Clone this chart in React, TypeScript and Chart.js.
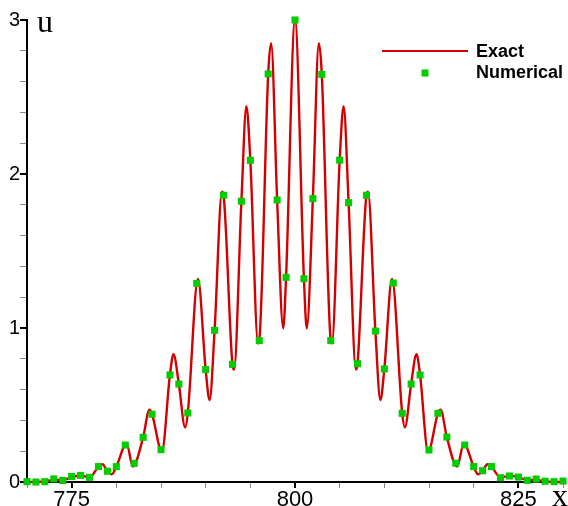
import React, { useEffect, useRef } from "react";
import { Chart, registerables } from "chart.js";

Chart.register(...registerables);

// Numerical solution samples (x = 770 ... 830, step 1)
const numX = [
  770, 771, 772, 773, 774, 775, 776, 777, 778, 779,
  780, 781, 782, 783, 784, 785, 786, 787, 788, 789,
  790, 791, 792, 793, 794, 795, 796, 797, 798, 799,
  800, 801, 802, 803, 804, 805, 806, 807, 808, 809,
  810, 811, 812, 813, 814, 815, 816, 817, 818, 819,
  820, 821, 822, 823, 824, 825, 826, 827, 828, 829,
  830,
];
const numU = [
  0.002, 0.0, 0.002, 0.02, 0.01, 0.036, 0.043, 0.03, 0.1, 0.07,
  0.1, 0.24, 0.121, 0.29, 0.44, 0.21, 0.695, 0.636, 0.448, 1.29,
  0.73, 0.985, 1.862, 0.764, 1.823, 2.089, 0.918, 2.65, 1.831, 1.329,
  3.0, 1.32, 1.84, 2.647, 0.918, 2.09, 1.814, 0.768, 1.862, 0.98,
  0.734, 1.292, 0.446, 0.636, 0.695, 0.208, 0.446, 0.292, 0.122, 0.24,
  0.1, 0.073, 0.1, 0.028, 0.039, 0.032, 0.011, 0.019, 0.005, 0.002,
  0.006,
];

// Exact solution (samples plus its peaks and troughs)
const exactX = [
  770, 771, 772, 773, 774, 775, 776, 777, 778, 778.45,
  779, 779.5, 780, 781.15, 781.85, 783, 783.7, 784, 785.1, 786,
  786.4, 787, 787.7, 788, 789.14, 790, 790.44, 791, 791.83, 792,
  793, 793.18, 794, 794.56, 795, 795.87, 796, 797, 797.33, 798,
  798.68, 799, 800, 801, 801.32, 802, 802.67, 803, 804, 804.13,
  805, 805.44, 806, 806.82, 807, 808, 808.17, 809, 809.56, 810,
  810.86, 812, 812.3, 813, 813.6, 814, 814.9, 816, 816.3, 817,
  818.15, 818.9, 820, 820.5, 821, 821.55, 822, 823, 824, 825,
  826, 827, 828, 829, 830,
];
const exactU = [
  0.0, 0.0, 0.003, 0.014, 0.012, 0.032, 0.042, 0.03, 0.1, 0.115,
  0.07, 0.05, 0.1, 0.25, 0.1, 0.29, 0.47, 0.44, 0.197, 0.695,
  0.83, 0.636, 0.355, 0.448, 1.318, 0.73, 0.532, 0.985, 1.885, 1.862,
  0.764, 0.73, 1.823, 2.44, 2.089, 0.9, 0.918, 2.65, 2.85, 1.831,
  0.998, 1.329, 3.0, 1.32, 0.998, 1.84, 2.85, 2.647, 0.918, 0.9,
  2.09, 2.44, 1.814, 0.73, 0.768, 1.862, 1.885, 0.98, 0.532, 0.734,
  1.318, 0.446, 0.355, 0.636, 0.83, 0.695, 0.197, 0.446, 0.47, 0.29,
  0.1, 0.25, 0.1, 0.05, 0.073, 0.115, 0.1, 0.03, 0.04, 0.032,
  0.012, 0.014, 0.003, 0.0, 0.0,
];

const xMajorLabels = [775, 800, 825];
const yMajorLabels = [0, 1, 2, 3];

const RED = "#d40000";
const GREEN = "#00cc00";

const isMajorY = (v: number) => Math.abs(v - Math.round(v)) < 1e-6;
const isMajorX = (v: number) => xMajorLabels.includes(Math.round(v)) && Math.abs(v - Math.round(v)) < 1e-6;

const decorPlugin = {
  id: "decor",
  afterDraw(chart: any) {
    const ctx = chart.ctx as CanvasRenderingContext2D;
    ctx.save();
    // legend
    ctx.strokeStyle = RED;
    ctx.lineWidth = 2;
    ctx.beginPath();
    ctx.moveTo(382, 51);
    ctx.lineTo(468, 51);
    ctx.stroke();
    ctx.fillStyle = GREEN;
    ctx.fillRect(425 - 3.5, 73 - 3.5, 7, 7);
    ctx.fillStyle = "#000";
    ctx.font = 'bold 18px "Liberation Sans", Arial, sans-serif';
    ctx.textBaseline = "middle";
    ctx.textAlign = "left";
    ctx.fillText("Exact", 476, 52);
    ctx.fillText("Numerical", 476, 73);
    // axis titles
    ctx.font = '32px "Liberation Serif", "Times New Roman", serif';
    ctx.textBaseline = "alphabetic";
    ctx.fillText("u", 37, 32);
    ctx.fillText("x", 552, 506);
    ctx.restore();
  },
};

export default function App() {
  const ref = useRef<HTMLCanvasElement>(null);

  useEffect(() => {
    if (!ref.current) return;
    const chart = new Chart(ref.current, {
      type: "line",
      data: {
        datasets: [
          {
            label: "Numerical",
            data: numX.map((x, i) => ({ x, y: numU[i] })),
            showLine: false,
            pointStyle: "rect",
            pointRadius: 5,
            pointBackgroundColor: GREEN,
            pointBorderColor: GREEN,
            pointBorderWidth: 0,
            order: 0,
            clip: false as any,
          },
          {
            label: "Exact",
            data: exactX.map((x, i) => ({ x, y: exactU[i] })),
            borderColor: RED,
            borderWidth: 2.4,
            pointRadius: 0,
            cubicInterpolationMode: "monotone",
            fill: false,
            order: 1,
            clip: false as any,
          },
        ],
      },
      options: {
        animation: false,
        responsive: false,
        devicePixelRatio: 1,
        events: [],
        layout: { padding: { top: 20, right: 5, left: 0, bottom: 0 } },
        plugins: {
          legend: { display: false },
          tooltip: { enabled: false },
          title: { display: false },
        },
        scales: {
          x: {
            type: "linear",
            min: 770,
            max: 830,
            afterFit: (s: any) => {
              s.height = 24;
            },
            ticks: {
              stepSize: 5,
              autoSkip: false,
              maxRotation: 0,
              padding: -1,
              color: "#000",
              font: { family: '"Liberation Sans", Arial, sans-serif', size: 22 },
              callback: (v: any) => (isMajorX(Number(v)) ? String(Math.round(Number(v))) : ""),
            },
            grid: {
              drawOnChartArea: false,
              drawTicks: true,
              tickLength: 6,
              color: (c: any) => (c.tick && isMajorX(c.tick.value) ? "#000" : "#888"),
              lineWidth: (c: any) => (c.tick && isMajorX(c.tick.value) ? 2 : 1),
            },
            border: { display: true, color: "#000", width: 2 },
          },
          y: {
            type: "linear",
            min: 0,
            max: 3,
            afterFit: (s: any) => {
              s.width = 27;
            },
            ticks: {
              stepSize: 0.2,
              autoSkip: false,
              padding: 0,
              color: "#000",
              font: { family: '"Liberation Sans", Arial, sans-serif', size: 20 },
              callback: (v: any) => {
                const n = Number(v);
                return isMajorY(n) && yMajorLabels.includes(Math.round(n)) ? String(Math.round(n)) : "";
              },
            },
            grid: {
              drawOnChartArea: false,
              drawTicks: true,
              tickLength: 7,
              color: (c: any) => (c.tick && isMajorY(c.tick.value) ? "#000" : "#888"),
              lineWidth: (c: any) => (c.tick && isMajorY(c.tick.value) ? 2 : 1),
            },
            border: { display: true, color: "#000", width: 2 },
          },
        },
      },
      plugins: [decorPlugin],
    });
    return () => chart.destroy();
  }, []);

  return (
    <div style={{ position: "fixed", left: 0, top: 0, width: 568, height: 506, background: "#fff" }}>
      <canvas ref={ref} width={568} height={506} />
    </div>
  );
}
